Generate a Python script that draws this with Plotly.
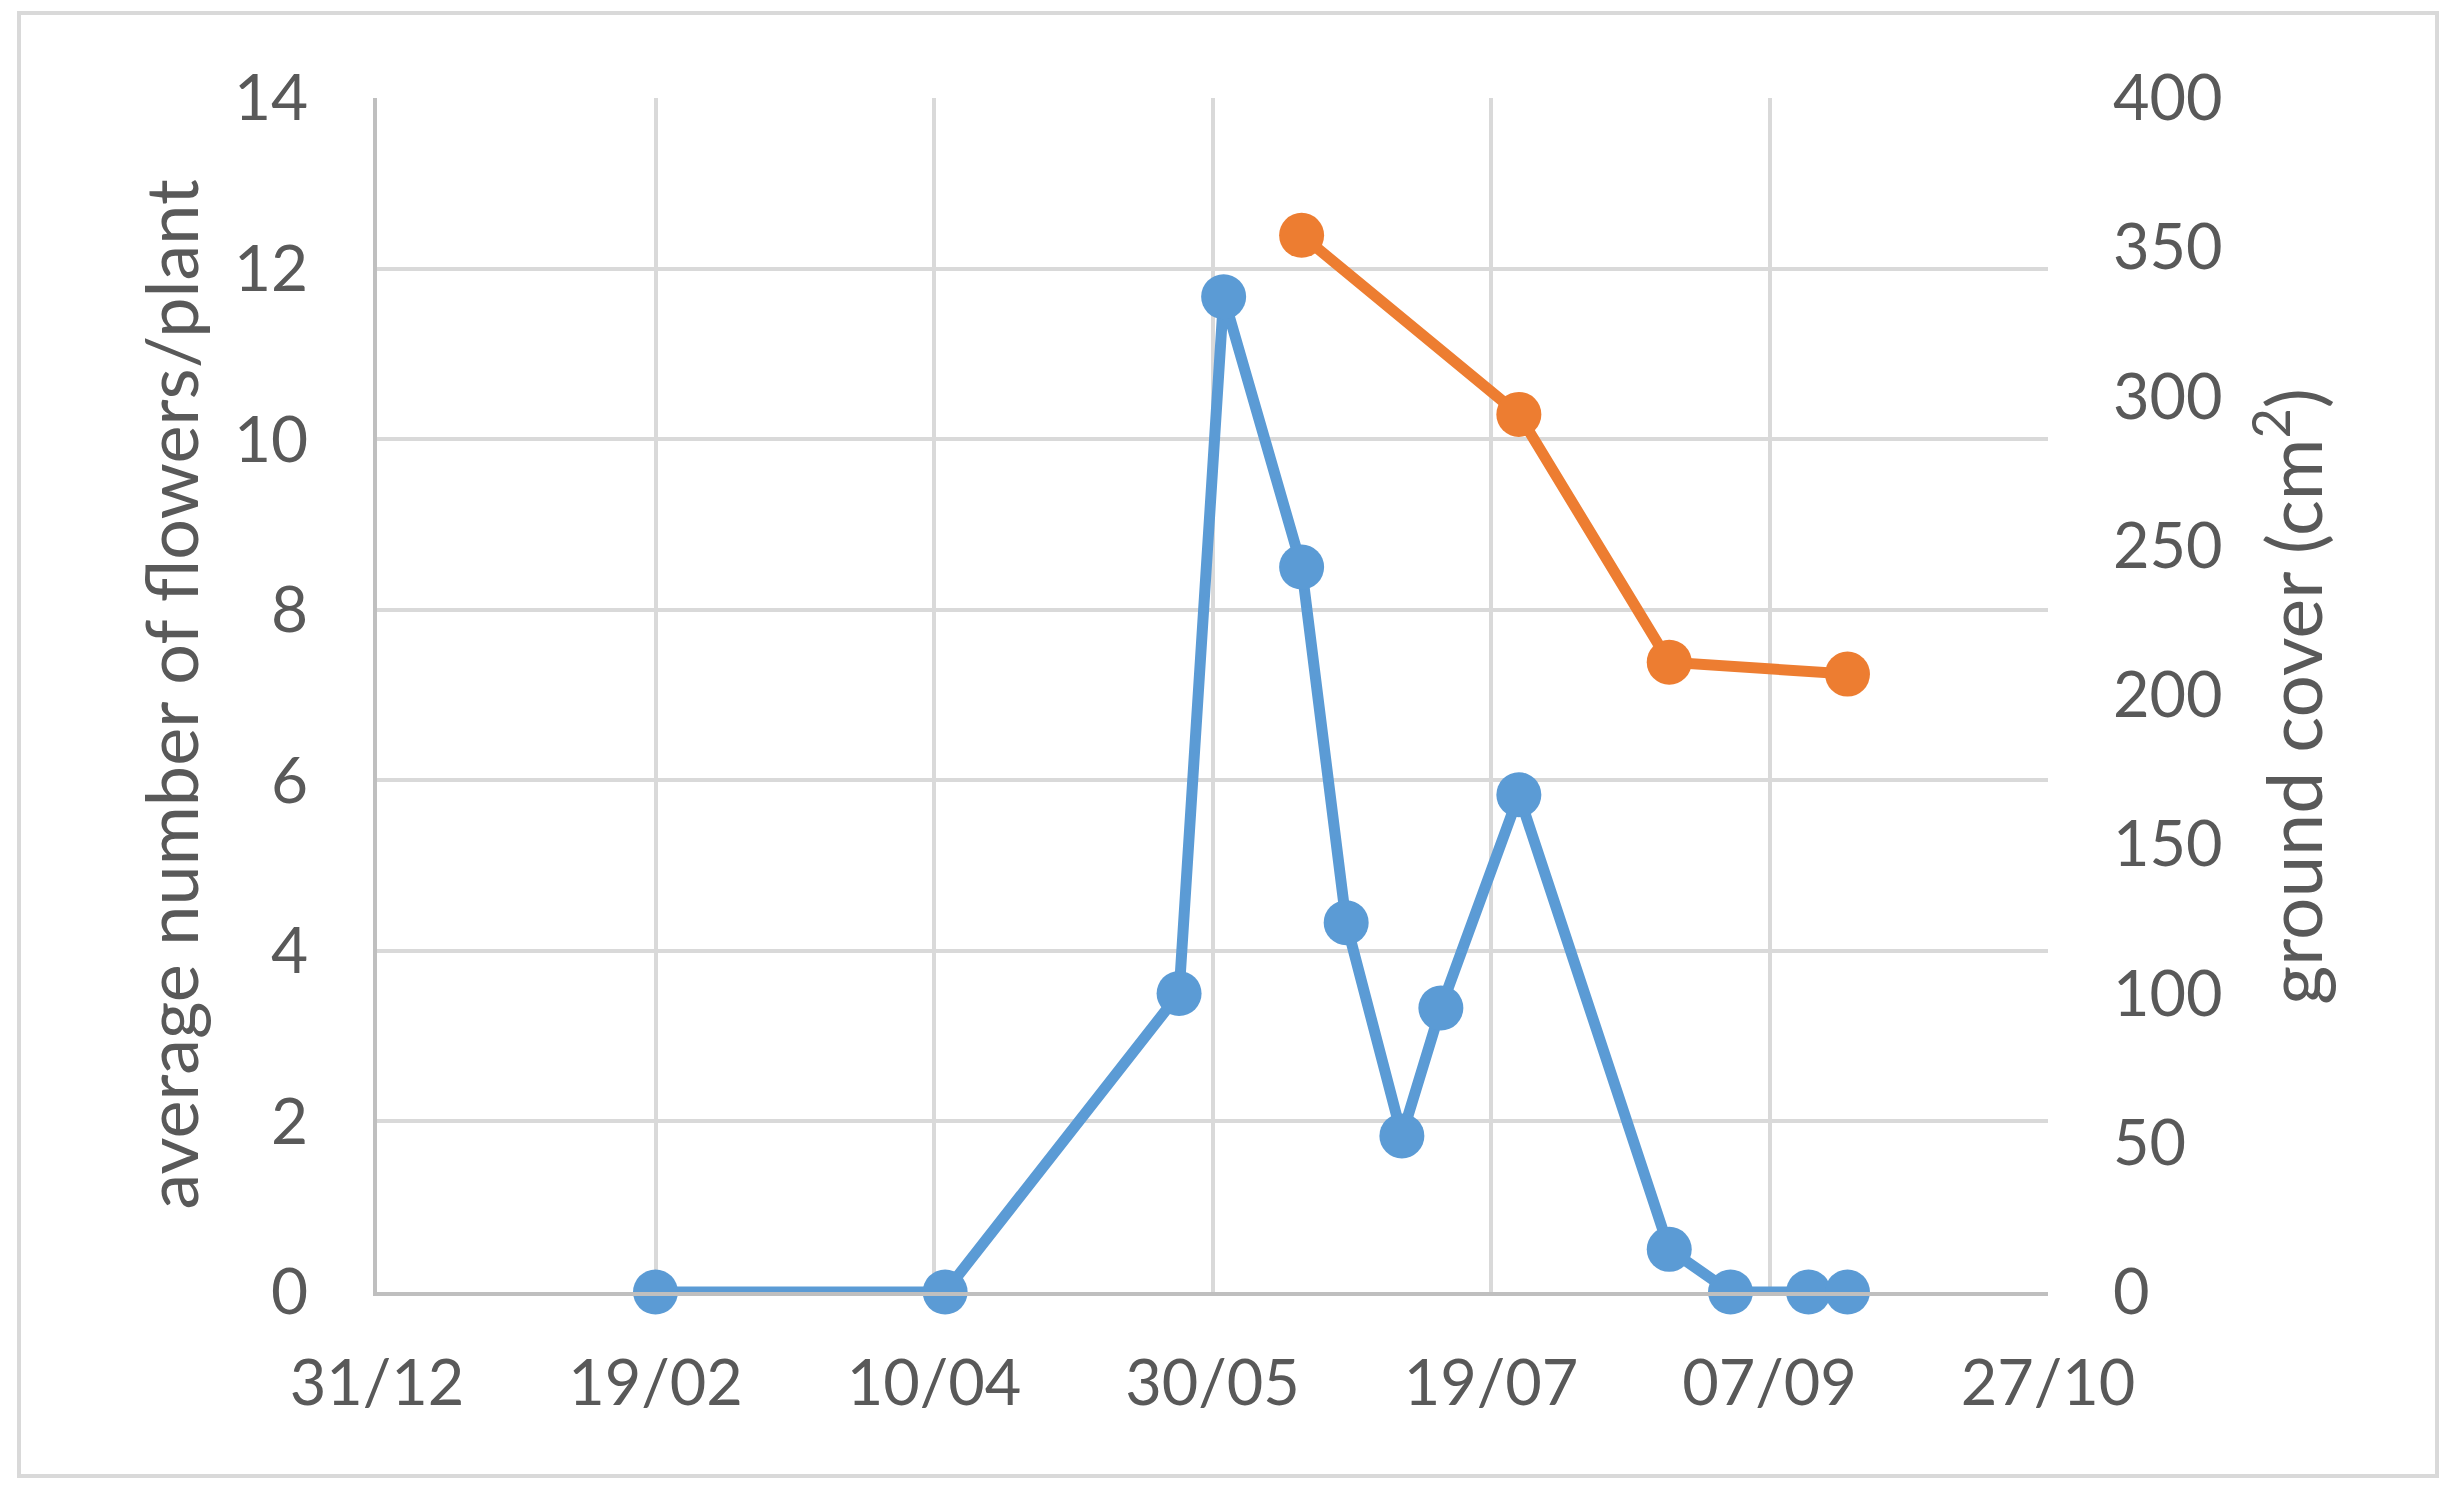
import plotly.graph_objects as go

# flowers per plant (left axis)
flower_dates = ["2018-02-19", "2018-04-12", "2018-05-24", "2018-06-01", "2018-06-15",
                "2018-06-23", "2018-07-03", "2018-07-10", "2018-07-24", "2018-08-20",
                "2018-08-31", "2018-09-14", "2018-09-21"]
flower_counts = [0, 0, 3.5, 11.67, 8.5, 4.33, 1.83, 3.33, 5.83, 0.5, 0, 0, 0]

# ground cover in cm2 (right axis)
cover_dates = ["2018-06-15", "2018-07-24", "2018-08-20", "2018-09-21"]
cover_values = [354, 294, 211, 207]

x_start = "2017-12-31"
x_end = "2018-10-27"

blue = "#5B9BD5"
orange = "#ED7D31"
txt = "#595959"
grid = "#D9D9D9"
font = "Lato"

W, H = 2440, 1480
L, R, T, B = 369, 400, 90, 196
pw, ph = W - L - R, H - T - B

fig = go.Figure()
fig.add_trace(go.Scatter(
    x=flower_dates, y=flower_counts, mode="lines+markers",
    line=dict(color=blue, width=11), marker=dict(color=blue, size=45),
    cliponaxis=False, name="flowers", yaxis="y"))
fig.add_trace(go.Scatter(
    x=cover_dates, y=cover_values, mode="lines+markers",
    line=dict(color=orange, width=11), marker=dict(color=orange, size=45),
    cliponaxis=False, name="ground cover", yaxis="y2"))

fig.update_layout(
    width=W, height=H,
    margin=dict(l=L, r=R, t=T, b=B),
    paper_bgcolor="white", plot_bgcolor="white",
    showlegend=False,
    font=dict(family=font, color=txt, size=63),
    xaxis=dict(
        type="date", range=[x_start, x_end],
        tick0=x_start, dtick=50 * 86400000, tickformat="%d/%m",
        showgrid=True, gridcolor=grid, gridwidth=4,
        showline=True, linecolor="#BFBFBF", linewidth=4,
        ticks="", ticklabelstandoff=33,
        tickfont=dict(family=font, size=63, color=txt),
    ),
    yaxis=dict(
        range=[0, 14], dtick=2,
        showgrid=True, gridcolor=grid, gridwidth=4, zeroline=False,
        showline=True, linecolor="#BFBFBF", linewidth=4,
        ticks="", ticklabelstandoff=52,
        tickfont=dict(family=font, size=64, color=txt),
    ),
    yaxis2=dict(
        range=[0, 400], dtick=50, overlaying="y", side="right",
        showgrid=False, zeroline=False, showline=False,
        ticks="", ticklabelstandoff=64,
        tickfont=dict(family=font, size=63, color=txt),
    ),
    annotations=[
        dict(text="average number of flowers/plant", xref="paper", yref="paper",
             x=-0.124, y=0.501, textangle=-90, showarrow=False,
             xanchor="center", yanchor="middle",
             font=dict(family=font, size=72, color=txt)),
        dict(text="ground cover (cm<sup>2</sup>)", xref="paper", yref="paper",
             x=1.144, y=0.499, textangle=-90, showarrow=False,
             xanchor="center", yanchor="middle",
             font=dict(family=font, size=75, color=txt)),
    ],
    shapes=[
        dict(type="rect", xref="paper", yref="paper",
             x0=(11 - L) / pw, x1=(2429 - L) / pw,
             y0=(H - B - 1468) / ph, y1=(H - B - 5) / ph,
             line=dict(color=grid, width=4), layer="below"),
    ],
)

fig.write_html("out.html")
